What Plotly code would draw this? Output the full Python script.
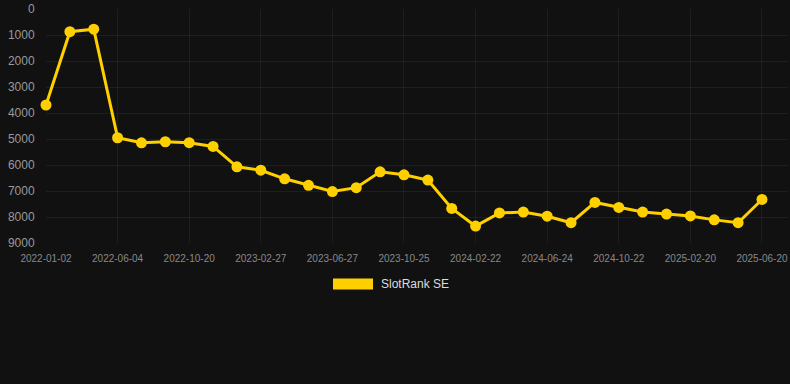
import plotly.graph_objects as go

dates = [
    "2022-01-02", "2022-02-22", "2022-04-14", "2022-06-04", "2022-07-20", "2022-09-04",
    "2022-10-20", "2022-12-02", "2023-01-14", "2023-02-27", "2023-04-08", "2023-05-18",
    "2023-06-27", "2023-08-06", "2023-09-15", "2023-10-25", "2023-12-04", "2024-01-13",
    "2024-02-22", "2024-04-03", "2024-05-14", "2024-06-24", "2024-08-03", "2024-09-12",
    "2024-10-22", "2024-12-01", "2025-01-10", "2025-02-20", "2025-04-01", "2025-05-11",
    "2025-06-20",
]
ranks = [
    3690, 870, 775, 4950, 5145, 5105, 5140, 5285, 6070, 6200, 6530, 6780,
    7020, 6870, 6260, 6375, 6580, 7670, 8350, 7845, 7810, 7970, 8220, 7440,
    7630, 7810, 7885, 7960, 8110, 8220, 7325,
]
series_name = "SlotRank SE"
tick_labels = dates[::3]
y_ticks = list(range(0, 10000, 1000))

gold = "#FFD000"
bg = "#111111"
grid = "rgba(255,255,255,0.055)"

fig = go.Figure()
fig.add_trace(go.Scatter(
    x=dates, y=ranks, mode="lines+markers", name=series_name,
    line=dict(color=gold, width=3),
    marker=dict(color=gold, size=11),
    cliponaxis=False, showlegend=False,
))

fig.update_layout(
    width=790, height=384,
    margin=dict(l=46, r=2, t=6, b=141),
    paper_bgcolor=bg, plot_bgcolor=bg,
    font=dict(family="Liberation Sans, Arial, sans-serif", color="#999999"),
    xaxis=dict(
        type="category", range=[0, 31.09],
        tickmode="array", tickvals=tick_labels, ticktext=tick_labels,
        tickfont=dict(size=10, color="#888888"),
        showgrid=True, gridcolor=grid, gridwidth=1,
        zeroline=False, showline=False,
        ticks="outside", ticklen=6, tickcolor="rgba(0,0,0,0)",
    ),
    yaxis=dict(
        range=[9000, -3], tickmode="array", tickvals=y_ticks,
        tickfont=dict(size=12, color="#999999"),
        showgrid=True, gridcolor=grid, gridwidth=1,
        zeroline=False, showline=False,
        ticks="outside", ticklen=8, tickcolor="rgba(0,0,0,0)",
        ticklabeloverflow="allow",
    ),
)

# Legend drawn as a patch + label
fig.add_shape(type="rect", xref="paper", yref="paper",
              x0=(333 - 46) / 742, x1=(373 - 46) / 742,
              y0=(243 - 290) / 237, y1=(243 - 279) / 237,
              fillcolor=gold, line=dict(width=0))
fig.add_annotation(xref="paper", yref="paper",
                   x=(379 - 46) / 742, y=(243 - 284.5) / 237,
                   xanchor="left", yanchor="middle", showarrow=False,
                   text=series_name, font=dict(size=12, color="#DDDDDD"))

fig.write_html(
    "out.html",
    config={"displayModeBar": False},
    post_script="document.body.style.margin='0';document.body.style.background='#111111';document.body.style.overflow='hidden';",
)
